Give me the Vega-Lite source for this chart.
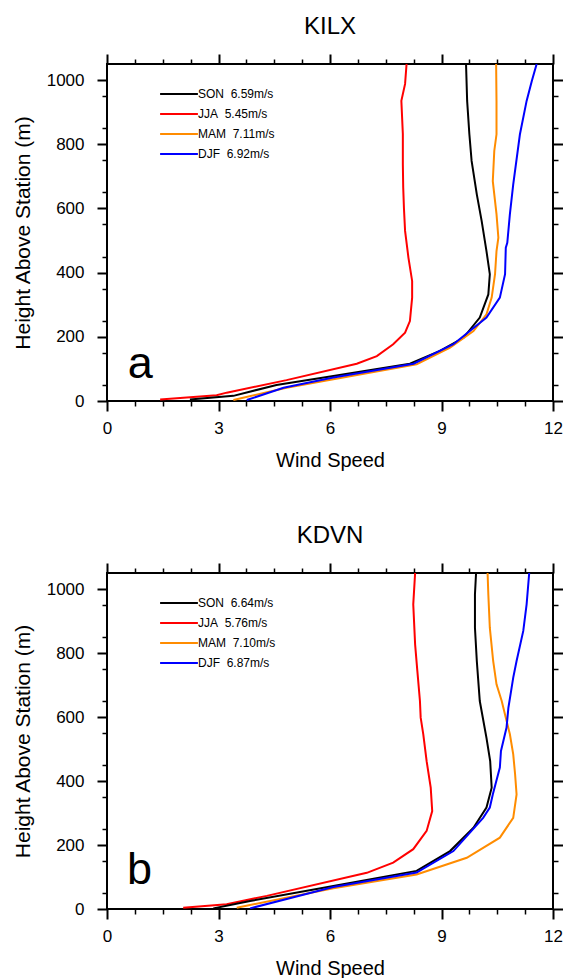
{
  "$schema": "https://vega.github.io/schema/vega-lite/v6.json",
  "background": "white",
  "padding": {"left": 11, "top": 14, "right": 5, "bottom": 5},
  "spacing": 52,
  "config": {
    "font": "Liberation Sans",
    "view": {"stroke": "black", "strokeWidth": 2},
    "axis": {"domain": false, "grid": false, "tickColor": "black", "labelColor": "black", "titleColor": "black", "labelFont": "Liberation Sans", "titleFont": "Liberation Sans", "titleFontWeight": "normal", "labelFontSize": 17, "titleFontSize": 20},
    "title": {"font": "Liberation Sans", "fontWeight": "normal", "fontSize": 24, "color": "black", "frame": "group", "anchor": "middle"},
    "legend": {"labelFont": "Liberation Sans"}
  },
  "datasets": {
    "profiles": [
      {"station": "KILX", "season": "JJA", "h": 5, "ws": 1.43},
      {"station": "KILX", "season": "JJA", "h": 18, "ws": 2.95},
      {"station": "KILX", "season": "JJA", "h": 26, "ws": 3.22},
      {"station": "KILX", "season": "JJA", "h": 65, "ws": 4.83},
      {"station": "KILX", "season": "JJA", "h": 116, "ws": 6.72},
      {"station": "KILX", "season": "JJA", "h": 140, "ws": 7.26},
      {"station": "KILX", "season": "JJA", "h": 177, "ws": 7.70},
      {"station": "KILX", "season": "JJA", "h": 213, "ws": 8.02},
      {"station": "KILX", "season": "JJA", "h": 249, "ws": 8.15},
      {"station": "KILX", "season": "JJA", "h": 322, "ws": 8.21},
      {"station": "KILX", "season": "JJA", "h": 374, "ws": 8.21},
      {"station": "KILX", "season": "JJA", "h": 447, "ws": 8.11},
      {"station": "KILX", "season": "JJA", "h": 530, "ws": 8.02},
      {"station": "KILX", "season": "JJA", "h": 600, "ws": 7.99},
      {"station": "KILX", "season": "JJA", "h": 665, "ws": 7.97},
      {"station": "KILX", "season": "JJA", "h": 738, "ws": 7.96},
      {"station": "KILX", "season": "JJA", "h": 832, "ws": 7.96},
      {"station": "KILX", "season": "JJA", "h": 935, "ws": 7.92},
      {"station": "KILX", "season": "JJA", "h": 988, "ws": 8.02},
      {"station": "KILX", "season": "JJA", "h": 1050, "ws": 8.06},
      {"station": "KILX", "season": "SON", "h": 5, "ws": 2.23},
      {"station": "KILX", "season": "SON", "h": 16, "ws": 3.40},
      {"station": "KILX", "season": "SON", "h": 50, "ws": 4.56},
      {"station": "KILX", "season": "SON", "h": 78, "ws": 6.09},
      {"station": "KILX", "season": "SON", "h": 116, "ws": 8.15},
      {"station": "KILX", "season": "SON", "h": 156, "ws": 8.96},
      {"station": "KILX", "season": "SON", "h": 197, "ws": 9.59},
      {"station": "KILX", "season": "SON", "h": 260, "ws": 10.03},
      {"station": "KILX", "season": "SON", "h": 332, "ws": 10.26},
      {"station": "KILX", "season": "SON", "h": 395, "ws": 10.30},
      {"station": "KILX", "season": "SON", "h": 467, "ws": 10.21},
      {"station": "KILX", "season": "SON", "h": 561, "ws": 10.08},
      {"station": "KILX", "season": "SON", "h": 644, "ws": 9.95},
      {"station": "KILX", "season": "SON", "h": 748, "ws": 9.81},
      {"station": "KILX", "season": "SON", "h": 831, "ws": 9.75},
      {"station": "KILX", "season": "SON", "h": 935, "ws": 9.69},
      {"station": "KILX", "season": "SON", "h": 1050, "ws": 9.66},
      {"station": "KILX", "season": "MAM", "h": 3, "ws": 3.40},
      {"station": "KILX", "season": "MAM", "h": 41, "ws": 4.83},
      {"station": "KILX", "season": "MAM", "h": 68, "ws": 6.09},
      {"station": "KILX", "season": "MAM", "h": 114, "ws": 8.33},
      {"station": "KILX", "season": "MAM", "h": 166, "ws": 9.23},
      {"station": "KILX", "season": "MAM", "h": 218, "ws": 9.86},
      {"station": "KILX", "season": "MAM", "h": 270, "ws": 10.21},
      {"station": "KILX", "season": "MAM", "h": 322, "ws": 10.35},
      {"station": "KILX", "season": "MAM", "h": 395, "ws": 10.44},
      {"station": "KILX", "season": "MAM", "h": 467, "ws": 10.48},
      {"station": "KILX", "season": "MAM", "h": 509, "ws": 10.53},
      {"station": "KILX", "season": "MAM", "h": 582, "ws": 10.48},
      {"station": "KILX", "season": "MAM", "h": 685, "ws": 10.38},
      {"station": "KILX", "season": "MAM", "h": 779, "ws": 10.42},
      {"station": "KILX", "season": "MAM", "h": 831, "ws": 10.48},
      {"station": "KILX", "season": "MAM", "h": 935, "ws": 10.48},
      {"station": "KILX", "season": "MAM", "h": 1050, "ws": 10.47},
      {"station": "KILX", "season": "DJF", "h": 3, "ws": 3.76},
      {"station": "KILX", "season": "DJF", "h": 41, "ws": 4.75},
      {"station": "KILX", "season": "DJF", "h": 73, "ws": 6.09},
      {"station": "KILX", "season": "DJF", "h": 116, "ws": 8.25},
      {"station": "KILX", "season": "DJF", "h": 177, "ws": 9.32},
      {"station": "KILX", "season": "DJF", "h": 260, "ws": 10.21},
      {"station": "KILX", "season": "DJF", "h": 322, "ws": 10.57},
      {"station": "KILX", "season": "DJF", "h": 395, "ws": 10.71},
      {"station": "KILX", "season": "DJF", "h": 478, "ws": 10.73},
      {"station": "KILX", "season": "DJF", "h": 493, "ws": 10.77},
      {"station": "KILX", "season": "DJF", "h": 582, "ws": 10.84},
      {"station": "KILX", "season": "DJF", "h": 675, "ws": 10.93},
      {"station": "KILX", "season": "DJF", "h": 831, "ws": 11.11},
      {"station": "KILX", "season": "DJF", "h": 935, "ws": 11.29},
      {"station": "KILX", "season": "DJF", "h": 997, "ws": 11.43},
      {"station": "KILX", "season": "DJF", "h": 1050, "ws": 11.56},
      {"station": "KDVN", "season": "JJA", "h": 4, "ws": 2.05},
      {"station": "KDVN", "season": "JJA", "h": 15, "ws": 3.22},
      {"station": "KDVN", "season": "JJA", "h": 41, "ws": 4.30},
      {"station": "KDVN", "season": "JJA", "h": 113, "ws": 6.99},
      {"station": "KDVN", "season": "JJA", "h": 145, "ws": 7.70},
      {"station": "KDVN", "season": "JJA", "h": 187, "ws": 8.24},
      {"station": "KDVN", "season": "JJA", "h": 244, "ws": 8.60},
      {"station": "KDVN", "season": "JJA", "h": 306, "ws": 8.75},
      {"station": "KDVN", "season": "JJA", "h": 379, "ws": 8.71},
      {"station": "KDVN", "season": "JJA", "h": 462, "ws": 8.60},
      {"station": "KDVN", "season": "JJA", "h": 546, "ws": 8.51},
      {"station": "KDVN", "season": "JJA", "h": 598, "ws": 8.44},
      {"station": "KDVN", "season": "JJA", "h": 650, "ws": 8.42},
      {"station": "KDVN", "season": "JJA", "h": 744, "ws": 8.35},
      {"station": "KDVN", "season": "JJA", "h": 827, "ws": 8.29},
      {"station": "KDVN", "season": "JJA", "h": 952, "ws": 8.24},
      {"station": "KDVN", "season": "JJA", "h": 1050, "ws": 8.29},
      {"station": "KDVN", "season": "SON", "h": 2, "ws": 2.86},
      {"station": "KDVN", "season": "SON", "h": 25, "ws": 3.85},
      {"station": "KDVN", "season": "SON", "h": 72, "ws": 6.09},
      {"station": "KDVN", "season": "SON", "h": 119, "ws": 8.33},
      {"station": "KDVN", "season": "SON", "h": 181, "ws": 9.23},
      {"station": "KDVN", "season": "SON", "h": 254, "ws": 9.86},
      {"station": "KDVN", "season": "SON", "h": 317, "ws": 10.21},
      {"station": "KDVN", "season": "SON", "h": 379, "ws": 10.35},
      {"station": "KDVN", "season": "SON", "h": 462, "ws": 10.31},
      {"station": "KDVN", "season": "SON", "h": 535, "ws": 10.21},
      {"station": "KDVN", "season": "SON", "h": 650, "ws": 10.03},
      {"station": "KDVN", "season": "SON", "h": 775, "ws": 9.95},
      {"station": "KDVN", "season": "SON", "h": 879, "ws": 9.90},
      {"station": "KDVN", "season": "SON", "h": 983, "ws": 9.90},
      {"station": "KDVN", "season": "SON", "h": 1050, "ws": 9.93},
      {"station": "KDVN", "season": "MAM", "h": 4, "ws": 3.49},
      {"station": "KDVN", "season": "MAM", "h": 65, "ws": 6.09},
      {"station": "KDVN", "season": "MAM", "h": 108, "ws": 8.33},
      {"station": "KDVN", "season": "MAM", "h": 160, "ws": 9.68},
      {"station": "KDVN", "season": "MAM", "h": 223, "ws": 10.57},
      {"station": "KDVN", "season": "MAM", "h": 285, "ws": 10.93},
      {"station": "KDVN", "season": "MAM", "h": 358, "ws": 11.02},
      {"station": "KDVN", "season": "MAM", "h": 421, "ws": 10.98},
      {"station": "KDVN", "season": "MAM", "h": 483, "ws": 10.93},
      {"station": "KDVN", "season": "MAM", "h": 546, "ws": 10.84},
      {"station": "KDVN", "season": "MAM", "h": 588, "ws": 10.75},
      {"station": "KDVN", "season": "MAM", "h": 650, "ws": 10.62},
      {"station": "KDVN", "season": "MAM", "h": 702, "ws": 10.48},
      {"station": "KDVN", "season": "MAM", "h": 775, "ws": 10.39},
      {"station": "KDVN", "season": "MAM", "h": 879, "ws": 10.30},
      {"station": "KDVN", "season": "MAM", "h": 983, "ws": 10.26},
      {"station": "KDVN", "season": "MAM", "h": 1050, "ws": 10.24},
      {"station": "KDVN", "season": "DJF", "h": 2, "ws": 3.85},
      {"station": "KDVN", "season": "DJF", "h": 69, "ws": 6.09},
      {"station": "KDVN", "season": "DJF", "h": 114, "ws": 8.33},
      {"station": "KDVN", "season": "DJF", "h": 181, "ws": 9.32},
      {"station": "KDVN", "season": "DJF", "h": 285, "ws": 10.12},
      {"station": "KDVN", "season": "DJF", "h": 317, "ws": 10.30},
      {"station": "KDVN", "season": "DJF", "h": 358, "ws": 10.38},
      {"station": "KDVN", "season": "DJF", "h": 442, "ws": 10.57},
      {"station": "KDVN", "season": "DJF", "h": 494, "ws": 10.60},
      {"station": "KDVN", "season": "DJF", "h": 567, "ws": 10.75},
      {"station": "KDVN", "season": "DJF", "h": 629, "ws": 10.80},
      {"station": "KDVN", "season": "DJF", "h": 723, "ws": 10.93},
      {"station": "KDVN", "season": "DJF", "h": 775, "ws": 11.02},
      {"station": "KDVN", "season": "DJF", "h": 869, "ws": 11.20},
      {"station": "KDVN", "season": "DJF", "h": 952, "ws": 11.29},
      {"station": "KDVN", "season": "DJF", "h": 1050, "ws": 11.36}
    ]
  },
  "resolve": {"scale": {"color": "independent"}},
  "vconcat": [
    {
      "title": {"text": "KILX", "offset": 14},
      "width": 446,
      "height": 337,
      "data": {"name": "profiles"},
      "transform": [{"filter": "datum.station == 'KILX'"}],
      "resolve": {"axis": {"x": "independent", "y": "independent"}},
      "layer": [
        {
          "mark": {"type": "line", "strokeWidth": 2, "clip": true},
          "encoding": {
            "x": {"field": "ws", "type": "quantitative", "scale": {"domain": [0, 12], "nice": false, "zero": false},
                  "axis": {"orient": "bottom", "values": [0, 3, 6, 9, 12], "tickSize": 10, "tickWidth": 2, "labelPadding": 9, "title": "Wind Speed", "titlePadding": 14, "labelFlush": false}},
            "y": {"field": "h", "type": "quantitative", "scale": {"domain": [0, 1050], "nice": false, "zero": false},
                  "axis": {"orient": "left", "values": [0, 200, 400, 600, 800, 1000], "format": "d", "tickSize": 10, "tickWidth": 2, "labelPadding": 13, "title": "Height Above Station (m)", "titleFontSize": 21, "titlePadding": 13, "labelFlush": false}},
            "color": {"field": "season", "type": "nominal",
                      "scale": {"domain": ["SON", "JJA", "MAM", "DJF"], "range": ["#000000", "#ff0000", "#ff8c00", "#0000ff"]},
                      "legend": {"orient": "none", "legendX": 62, "legendY": 20, "title": null, "symbolType": "M-2.1,0H2.1", "symbolSize": 324, "symbolStrokeWidth": 2, "labelFontSize": 12, "labelOffset": 9, "rowPadding": 4, "padding": 0,
                                 "labelExpr": "datum.label == 'SON' ? 'SON\u00a0 6.59m/s' : datum.label == 'JJA' ? 'JJA\u00a0 5.45m/s' : datum.label == 'MAM' ? 'MAM\u00a0 7.11m/s' : 'DJF\u00a0 6.92m/s'"}},
            "order": {"field": "h", "type": "quantitative"}
          }
        },
        {
          "mark": {"type": "point", "opacity": 0},
          "encoding": {
            "x": {"field": "ws", "type": "quantitative", "axis": {"orient": "bottom", "values": [0.75, 1.5, 2.25, 3.75, 4.5, 5.25, 6.75, 7.5, 8.25, 9.75, 10.5, 11.25], "tickSize": 5, "tickWidth": 1.5, "labels": false, "title": null}},
            "y": {"field": "h", "type": "quantitative", "axis": {"orient": "left", "values": [50, 150, 250, 350, 450, 550, 650, 750, 850, 950], "tickSize": 5, "tickWidth": 1.5, "labels": false, "title": null}}
          }
        },
        {
          "mark": {"type": "point", "opacity": 0},
          "encoding": {
            "x": {"field": "ws", "type": "quantitative", "axis": {"orient": "top", "values": [0, 3, 6, 9, 12], "tickSize": 10, "tickWidth": 2, "labels": false, "title": null}},
            "y": {"field": "h", "type": "quantitative", "axis": {"orient": "right", "values": [0, 200, 400, 600, 800, 1000], "tickSize": 10, "tickWidth": 2, "labels": false, "title": null}}
          }
        },
        {
          "mark": {"type": "point", "opacity": 0},
          "encoding": {
            "x": {"field": "ws", "type": "quantitative", "axis": {"orient": "top", "values": [0.75, 1.5, 2.25, 3.75, 4.5, 5.25, 6.75, 7.5, 8.25, 9.75, 10.5, 11.25], "tickSize": 5, "tickWidth": 1.5, "labels": false, "title": null}},
            "y": {"field": "h", "type": "quantitative", "axis": {"orient": "right", "values": [50, 150, 250, 350, 450, 550, 650, 750, 850, 950], "tickSize": 5, "tickWidth": 1.5, "labels": false, "title": null}}
          }
        },
        {
          "data": {"values": [{"panel": "a"}]},
          "mark": {"type": "text", "fontSize": 45, "align": "left", "baseline": "alphabetic", "color": "black", "font": "Liberation Sans"},
          "encoding": {"text": {"field": "panel"}, "x": {"datum": 0.56, "axis": null}, "y": {"datum": 72, "axis": null}}
        }
      ]
    },
    {
      "title": {"text": "KDVN", "offset": 14},
      "width": 446,
      "height": 336,
      "data": {"name": "profiles"},
      "transform": [{"filter": "datum.station == 'KDVN'"}],
      "resolve": {"axis": {"x": "independent", "y": "independent"}},
      "layer": [
        {
          "mark": {"type": "line", "strokeWidth": 2, "clip": true},
          "encoding": {
            "x": {"field": "ws", "type": "quantitative", "scale": {"domain": [0, 12], "nice": false, "zero": false},
                  "axis": {"orient": "bottom", "values": [0, 3, 6, 9, 12], "tickSize": 10, "tickWidth": 2, "labelPadding": 9, "title": "Wind Speed", "titlePadding": 14, "labelFlush": false}},
            "y": {"field": "h", "type": "quantitative", "scale": {"domain": [0, 1050], "nice": false, "zero": false},
                  "axis": {"orient": "left", "values": [0, 200, 400, 600, 800, 1000], "format": "d", "tickSize": 10, "tickWidth": 2, "labelPadding": 13, "title": "Height Above Station (m)", "titleFontSize": 21, "titlePadding": 13, "labelFlush": false}},
            "color": {"field": "season", "type": "nominal",
                      "scale": {"domain": ["SON", "JJA", "MAM", "DJF"], "range": ["#000000", "#ff0000", "#ff8c00", "#0000ff"]},
                      "legend": {"orient": "none", "legendX": 62, "legendY": 20, "title": null, "symbolType": "M-2.1,0H2.1", "symbolSize": 324, "symbolStrokeWidth": 2, "labelFontSize": 12, "labelOffset": 9, "rowPadding": 4, "padding": 0,
                                 "labelExpr": "datum.label == 'SON' ? 'SON\u00a0 6.64m/s' : datum.label == 'JJA' ? 'JJA\u00a0 5.76m/s' : datum.label == 'MAM' ? 'MAM\u00a0 7.10m/s' : 'DJF\u00a0 6.87m/s'"}},
            "order": {"field": "h", "type": "quantitative"}
          }
        },
        {
          "mark": {"type": "point", "opacity": 0},
          "encoding": {
            "x": {"field": "ws", "type": "quantitative", "axis": {"orient": "bottom", "values": [0.75, 1.5, 2.25, 3.75, 4.5, 5.25, 6.75, 7.5, 8.25, 9.75, 10.5, 11.25], "tickSize": 5, "tickWidth": 1.5, "labels": false, "title": null}},
            "y": {"field": "h", "type": "quantitative", "axis": {"orient": "left", "values": [50, 150, 250, 350, 450, 550, 650, 750, 850, 950], "tickSize": 5, "tickWidth": 1.5, "labels": false, "title": null}}
          }
        },
        {
          "mark": {"type": "point", "opacity": 0},
          "encoding": {
            "x": {"field": "ws", "type": "quantitative", "axis": {"orient": "top", "values": [0, 3, 6, 9, 12], "tickSize": 10, "tickWidth": 2, "labels": false, "title": null}},
            "y": {"field": "h", "type": "quantitative", "axis": {"orient": "right", "values": [0, 200, 400, 600, 800, 1000], "tickSize": 10, "tickWidth": 2, "labels": false, "title": null}}
          }
        },
        {
          "mark": {"type": "point", "opacity": 0},
          "encoding": {
            "x": {"field": "ws", "type": "quantitative", "axis": {"orient": "top", "values": [0.75, 1.5, 2.25, 3.75, 4.5, 5.25, 6.75, 7.5, 8.25, 9.75, 10.5, 11.25], "tickSize": 5, "tickWidth": 1.5, "labels": false, "title": null}},
            "y": {"field": "h", "type": "quantitative", "axis": {"orient": "right", "values": [50, 150, 250, 350, 450, 550, 650, 750, 850, 950], "tickSize": 5, "tickWidth": 1.5, "labels": false, "title": null}}
          }
        },
        {
          "data": {"values": [{"panel": "b"}]},
          "mark": {"type": "text", "fontSize": 45, "align": "left", "baseline": "alphabetic", "color": "black", "font": "Liberation Sans"},
          "encoding": {"text": {"field": "panel"}, "x": {"datum": 0.54, "axis": null}, "y": {"datum": 78, "axis": null}}
        }
      ]
    }
  ]
}
